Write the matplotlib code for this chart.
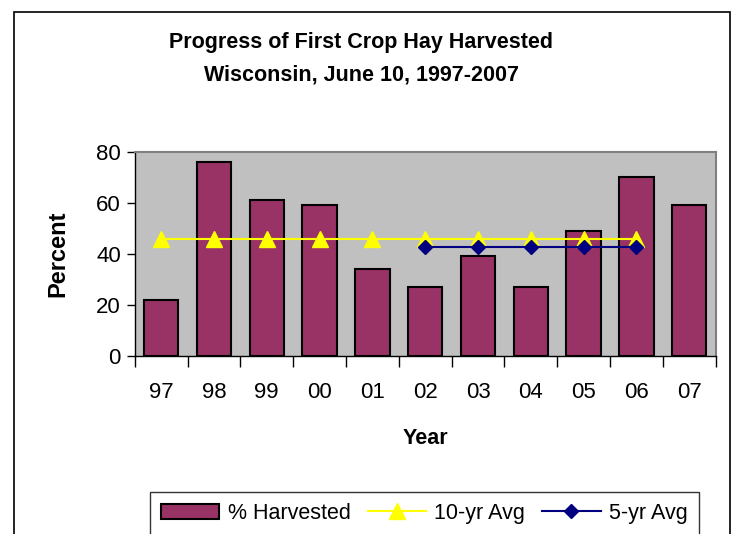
import matplotlib
matplotlib.use("Agg")
from matplotlib import pyplot as plt
from matplotlib.patches import Rectangle
import numpy as np

plt.rcParams["font.family"] = ["Liberation Sans", "DejaVu Sans"]

# ------------------------------------------------------------------------ DATA
years = ["97", "98", "99", "00", "01", "02", "03", "04", "05", "06", "07"]
harvested = [22, 76, 61, 59, 34, 27, 39, 27, 49, 70, 59]
avg10_years = ["97", "98", "99", "00", "01", "02", "03", "04", "05", "06"]
avg10 = [46, 46, 46, 46, 46, 46, 46, 46, 46, 46]
avg5_years = ["02", "03", "04", "05", "06"]
avg5 = [42.5, 42.5, 42.5, 42.5, 42.5]

# ---------------------------------------------------------------------- Figure
W, H = 739, 534
fig = plt.figure(figsize=(W / 100, H / 100), dpi=100)
ax = fig.add_axes([134.7 / W, 1 - 356 / H, (715.7 - 134.7) / W, (356 - 151.7) / H])

# outer chart frame (runs off the bottom)
fig.patches.append(Rectangle((14 / W, -0.05), (730 - 14) / W, 1 - 12 / H + 0.05,
                             transform=fig.transFigure, fill=False,
                             edgecolor="black", lw=1.2))

x = np.arange(len(years))
pos = {y: i for i, y in enumerate(years)}

ax.set_facecolor("#C0C0C0")
bars = ax.bar(x, harvested, width=0.65, color="#993366", edgecolor="black",
              lw=1.5, label="% Harvested", zorder=2)
l10, = ax.plot([pos[y] for y in avg10_years], avg10, color="#FFFF00", lw=1.5,
               marker="^", ms=11, label="10-yr Avg", zorder=3)
l5, = ax.plot([pos[y] for y in avg5_years], avg5, color="#000080", lw=1.5,
              marker="D", ms=7.5, label="5-yr Avg", zorder=4)

ax.set_xlim(-0.5, len(years) - 0.5)
ax.set_ylim(0, 80)
ax.set_yticks([0, 20, 40, 60, 80])
ax.set_xticks(np.arange(len(years) + 1) - 0.5)
ax.set_xticklabels([])
ax.set_xticks(x, minor=True)
ax.set_xticklabels(years, minor=True)
ax.tick_params(axis="x", which="major", length=8, width=1, direction="out")
ax.tick_params(axis="x", which="minor", length=0, pad=19, labelsize=16)
ax.tick_params(axis="y", length=6, width=1, labelsize=16, pad=4)

for side in ["top", "right"]:
    ax.spines[side].set_color("#808080")
    ax.spines[side].set_linewidth(1.5)
for side in ["left", "bottom"]:
    ax.spines[side].set_color("black")
    ax.spines[side].set_linewidth(1)

ax.set_xlabel("Year", fontsize=15.5, fontweight="bold", labelpad=18)
ax.set_ylabel("Percent", fontsize=17, fontweight="bold", labelpad=19)

fig.text(361 / W, 1 - 59 / H,
         "Progress of First Crop Hay Harvested\nWisconsin, June 10, 1997-2007",
         ha="center", va="center", fontsize=15.5, fontweight="bold",
         linespacing=1.75)

leg = fig.legend(handles=[bars, l10, l5], loc="upper left",
                 bbox_to_anchor=(150 / W, 1 - 492 / H), borderaxespad=0,
                 ncol=3, fontsize=15.5, frameon=True, fancybox=False,
                 edgecolor="black", handlelength=2.7, handletextpad=0.4,
                 columnspacing=0.8, borderpad=0.5)
leg.get_frame().set_linewidth(1)

fig.savefig("out.png", dpi=100)
